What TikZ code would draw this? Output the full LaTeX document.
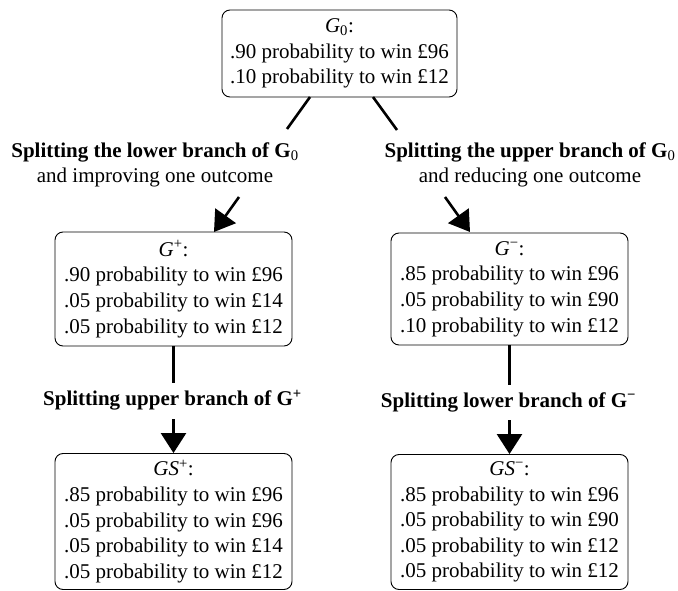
\documentclass[tikz,border=0pt]{standalone}
\usepackage{fontspec}
\setmainfont{Liberation Serif}
\usetikzlibrary{arrows.meta}
\begin{document}
\begin{tikzpicture}[x=1pt,y=-1pt,
  box/.style={draw,rounded corners=8pt,line width=0.9pt,inner sep=0pt,align=center,
    font=\fontsize{21}{25.6}\selectfont},
  lbl/.style={inner sep=0pt,align=center,font=\fontsize{21}{24.5}\selectfont},
  conn/.style={line width=2.6pt},
  arr/.style={line width=2.6pt,-{Triangle[width=25pt,length=20pt]}}]
\useasboundingbox (0,0) rectangle (678,591);
\node[box,minimum width=235pt,minimum height=87pt] (G0) at (339.5,53.5)
  {\textit{G}\textsubscript{0}:\\.90 probability to win £96\\.10 probability to win £12};
\node[box,minimum width=237pt,minimum height=114pt] (Gp) at (173.5,289)
  {\textit{G}\textsuperscript{+}:\\.90 probability to win £96\\.05 probability to win £14\\.05 probability to win £12};
\node[box,minimum width=237pt,minimum height=112pt] (Gm) at (509.5,289)
  {\textit{G}\textsuperscript{−}:\\.85 probability to win £96\\.05 probability to win £90\\.10 probability to win £12};
\node[box,minimum width=237pt,minimum height=136pt] (GSp) at (173.5,521.5)
  {\textit{GS}\textsuperscript{+}:\\.85 probability to win £96\\.05 probability to win £96\\.05 probability to win £14\\.05 probability to win £12};
\node[box,minimum width=237pt,minimum height=135pt] (GSm) at (509.5,522)
  {\textit{GS}\textsuperscript{−}:\\.85 probability to win £96\\.05 probability to win £90\\.05 probability to win £12\\.05 probability to win £12};
\node[lbl] (L1) at (155,165) {\textbf{Splitting the lower branch of G}\textsubscript{0}\\and improving one outcome};
\node[lbl] (L2) at (530,165) {\textbf{Splitting the upper branch of G}\textsubscript{0}\\and reducing one outcome};
\node[lbl] (L3) at (172.5,400) {\textbf{Splitting upper branch of G\textsuperscript{+}}};
\node[lbl] (L4) at (508.5,402) {\textbf{Splitting lower branch of G\textsuperscript{−}}};
% connectors
\coordinate (a1) at (310,97);
\coordinate (a2) at (287,129);
\coordinate (b1) at (373,97);
\coordinate (b2) at (397,130);
\coordinate (c1) at (239,197);
\coordinate (c2) at (214,232);
\coordinate (d1) at (445,197);
\coordinate (d2) at (470,232);
\draw[conn] (a1) -- (a2);
\draw[conn] (b1) -- (b2);
\draw[arr] (c1) -- (c2);
\draw[arr] (d1) -- (d2);
\draw[conn] (Gp.south) -- ([yshift=-37pt]Gp.south) coordinate (e1);
\draw[arr] ([yshift=-73pt]Gp.south) -- (GSp.north);
\draw[conn] (Gm.south) -- ([yshift=-40pt]Gm.south) coordinate (f1);
\draw[arr] ([yshift=-75pt]Gm.south) -- (GSm.north);
\end{tikzpicture}
\end{document}
